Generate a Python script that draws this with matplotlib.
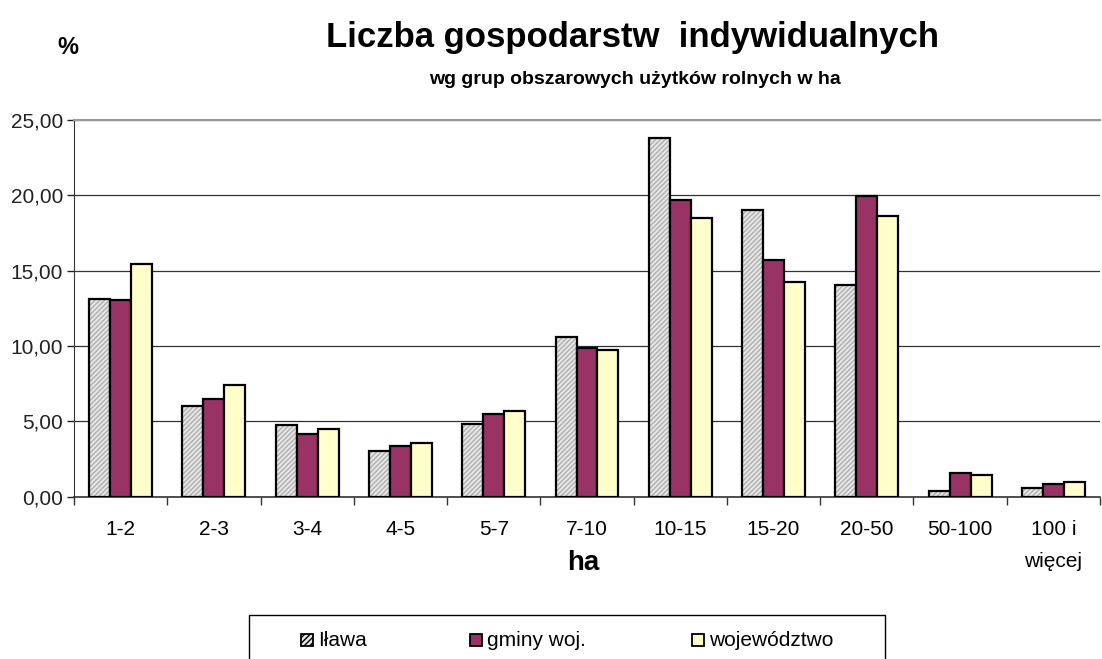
import matplotlib.pyplot as plt
import numpy as np
from matplotlib.patches import Rectangle

plt.rcParams['font.family'] = ['Liberation Sans', 'DejaVu Sans']

# data
categories = ['1-2', '2-3', '3-4', '4-5', '5-7', '7-10', '10-15', '15-20', '20-50', '50-100', '100 i\nwięcej']
ilawa = [13.14, 6.05, 4.76, 3.01, 4.81, 10.60, 23.78, 19.04, 14.08, 0.38, 0.56]
gminy = [13.08, 6.49, 4.14, 3.35, 5.48, 9.89, 19.66, 15.69, 19.93, 1.55, 0.87]
wojewodztwo = [15.42, 7.42, 4.52, 3.55, 5.68, 9.75, 18.51, 14.28, 18.64, 1.46, 0.98]
series_names = ['Iława', 'gminy woj.', 'województwo']
y_ticks = [0, 5, 10, 15, 20, 25]

W, H = 1102, 659
fig = plt.figure(figsize=(W / 100, H / 100), dpi=100)
ax = fig.add_axes([74 / W, 1 - 496.7 / H, 1026 / W, 376.7 / H])

x = np.arange(len(categories))
w = 0.225
lw = 1.6
grey, grey_hatch = '#E6E6E6', '#B0B0B0'
plum, cream = '#993366', '#FFFFCC'

# hatched grey bars: hatch first, then a black outline on top
ax.bar(x - w, ilawa, w, color=grey, hatch='///////', edgecolor=grey_hatch, linewidth=0, zorder=3)
ax.bar(x - w, ilawa, w, fill=False, edgecolor='black', linewidth=lw, zorder=4)
ax.bar(x, gminy, w, color=plum, edgecolor='black', linewidth=lw, zorder=4)
ax.bar(x + w, wojewodztwo, w, color=cream, edgecolor='black', linewidth=lw, zorder=4)

ax.set_xlim(-0.5, len(categories) - 0.5)
ax.set_ylim(0, 25)

# y axis
ax.set_yticks(y_ticks)
ax.set_yticklabels([f'{v:.2f}'.replace('.', ',') for v in y_ticks], fontsize=15)
ax.tick_params(axis='y', direction='out', length=5, width=1, colors='#222222', pad=3)
ax.yaxis.grid(True, color='#333333', linewidth=0.9, zorder=0)
ax.set_axisbelow(True)

# x axis: ticks between categories, labels centred
ax.set_xticks(np.arange(len(categories) + 1) - 0.5)
ax.set_xticklabels([])
ax.tick_params(axis='x', which='major', direction='out', length=6, width=1, colors='#333333')
ax.set_xticks(x, minor=True)
ax.set_xticklabels(categories, minor=True, fontsize=15, va='top', linespacing=1.85)
ax.tick_params(axis='x', which='minor', length=0, pad=17)

ax.spines['right'].set_visible(False)
ax.spines['top'].set_color('#999999')
ax.spines['top'].set_linewidth(1.5)
ax.spines['left'].set_color('#333333')
ax.spines['bottom'].set_color('#333333')
ax.spines['bottom'].set_linewidth(1.2)

# titles and axis labels
fig.text(632 / W, 1 - 38 / H, 'Liczba gospodarstw  indywidualnych', ha='center', va='center',
         fontsize=25, fontweight='bold')
fig.text(635 / W, 1 - 80 / H, 'wg grup obszarowych użytków rolnych w ha', ha='center', va='center',
         fontsize=14, fontweight='bold')
fig.text(68 / W, 1 - 48 / H, '%', ha='center', va='center', fontsize=17, fontweight='bold')
fig.text(583 / W, 1 - 563 / H, 'ha', ha='center', va='center', fontsize=20, fontweight='bold')

# legend box, cut by the bottom edge like in the original
fig.patches.append(Rectangle((249 / W, -10 / H), 636 / W, (H - 615 + 10) / H, transform=fig.transFigure,
                             facecolor='white', edgecolor='black', linewidth=1.0))
handle_x = [301, 470, 692]
handle_face = [grey, plum, cream]
ly = 640
hs = 12
for hx, fc, name in zip(handle_x, handle_face, series_names):
    r = Rectangle((hx / W, (H - ly - hs / 2) / H), hs / W, hs / H, transform=fig.transFigure,
                  facecolor=fc, edgecolor='black', linewidth=1.3,
                  hatch='//////' if fc == grey else None)
    fig.patches.append(r)
    fig.text((hx + hs + 5) / W, 1 - ly / H, name, ha='left', va='center', fontsize=15)

fig.savefig('out.png', dpi=100)
